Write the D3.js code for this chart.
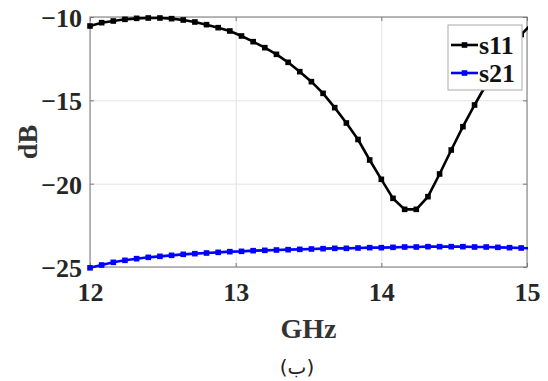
<!DOCTYPE html>
<html><head><meta charset="utf-8">
<script src="https://cdn.jsdelivr.net/npm/d3@7"></script>
<style>body{margin:0;background:#fff}svg{display:block}</style>
</head><body>
<script>
const freq = [12.00,12.08,12.16,12.24,12.32,12.40,12.48,12.56,12.64,12.72,12.80,12.88,12.96,13.04,13.12,13.20,13.28,13.36,13.44,13.52,13.60,13.68,13.76,13.84,13.92,14.00,14.08,14.16,14.24,14.32,14.40,14.48,14.56,14.64,14.72,14.80,14.88,14.96,15.04];
const s11 = [-10.54,-10.34,-10.24,-10.14,-10.08,-10.06,-10.06,-10.10,-10.18,-10.30,-10.46,-10.64,-10.84,-11.14,-11.48,-11.84,-12.24,-12.72,-13.28,-13.88,-14.58,-15.44,-16.36,-17.35,-18.58,-19.74,-20.88,-21.54,-21.54,-20.78,-19.42,-17.98,-16.58,-15.28,-14.05,-12.95,-11.95,-11.05,-10.35];
const s21 = [-25.05,-24.88,-24.72,-24.60,-24.50,-24.42,-24.36,-24.30,-24.24,-24.20,-24.16,-24.12,-24.08,-24.06,-24.02,-24.00,-23.98,-23.96,-23.94,-23.92,-23.90,-23.88,-23.88,-23.86,-23.84,-23.84,-23.82,-23.80,-23.80,-23.78,-23.78,-23.78,-23.78,-23.80,-23.80,-23.82,-23.84,-23.86,-23.88];
const xTicks = [12,13,14,15];
const yTicks = [-25,-20,-15,-10];
const seriesNames = ["s11","s21"];
const seriesColors = ["#000000","#0000ff"];

const W=548,H=381;
const svg=d3.select("body").append("svg").attr("width",W).attr("height",H);
const L=90,R=527,T=17,B=267;
const x=d3.scaleLinear().domain([12,15]).range([L,R]);
const y=d3.scaleLinear().domain([-25,-10]).range([B,T]);
const font="'Liberation Serif','Times New Roman',serif";

// grid
const gx=svg.append("g").attr("transform",`translate(0,${B})`)
 .call(d3.axisBottom(x).tickValues(xTicks).tickSize(-(B-T)).tickFormat(""));
gx.selectAll("line").attr("stroke","#e3e3e3");
gx.select(".domain").remove();
const gy=svg.append("g").attr("transform",`translate(${L},0)`)
 .call(d3.axisLeft(y).tickValues(yTicks).tickSize(-(R-L)).tickFormat(""));
gy.selectAll("line").attr("stroke","#e3e3e3");
gy.select(".domain").remove();

// box
svg.append("rect").attr("x",L).attr("y",T).attr("width",R-L).attr("height",B-T)
 .attr("fill","none").attr("stroke","#8c8c8c").attr("stroke-width",1.2);

// axes
const ax=svg.append("g").attr("transform",`translate(0,${B})`)
 .call(d3.axisBottom(x).tickValues(xTicks).tickSize(-4).tickPadding(16).tickFormat(d3.format("d")));
ax.select(".domain").remove();
ax.selectAll("line").attr("stroke","#777");
ax.selectAll("text").attr("font-family",font).attr("font-weight","bold").attr("font-size",26).attr("fill","#262626");
const ay=svg.append("g").attr("transform",`translate(${L},0)`)
 .call(d3.axisLeft(y).tickValues(yTicks).tickSize(-4).tickPadding(8).tickFormat(d3.format("d")));
ay.select(".domain").remove();
ay.selectAll("line").attr("stroke","#777");
ay.selectAll("text").attr("font-family",font).attr("font-weight","bold").attr("font-size",26).attr("fill","#262626").attr("dy","0.36em");
svg.append("g").attr("transform",`translate(0,${T})`)
 .call(d3.axisTop(x).tickValues(xTicks).tickSize(-4).tickFormat("")).call(g=>{g.select(".domain").remove();g.selectAll("line").attr("stroke","#777");});
svg.append("g").attr("transform",`translate(${R},0)`)
 .call(d3.axisRight(y).tickValues(yTicks).tickSize(-4).tickFormat("")).call(g=>{g.select(".domain").remove();g.selectAll("line").attr("stroke","#777");});

svg.append("clipPath").attr("id","clipx").append("rect").attr("x",L-4).attr("y",0).attr("width",R-L+5).attr("height",H);

const data=[s11,s21];
const line=d3.line().x((d,i)=>x(freq[i])).y(d=>y(d));
data.forEach((vals,k)=>{
  const g=svg.append("g").attr("clip-path","url(#clipx)");
  g.append("path").datum(vals).attr("d",line).attr("fill","none")
   .attr("stroke",seriesColors[k]).attr("stroke-width",2.6);
  g.selectAll("rect.m").data(vals).enter().append("rect")
   .attr("x",(d,i)=>x(freq[i])-2.8).attr("y",d=>y(d)-2.8)
   .attr("width",5.6).attr("height",5.6).attr("fill",seriesColors[k]);
});

// legend
const lg=svg.append("g");
lg.append("rect").attr("x",448).attr("y",25).attr("width",74).attr("height",65)
 .attr("fill","#fff").attr("stroke","#aaaaaa").attr("stroke-width",1);
seriesNames.forEach((n,k)=>{
  const yy=45+k*28;
  lg.append("line").attr("x1",451).attr("x2",478).attr("y1",yy).attr("y2",yy)
   .attr("stroke",seriesColors[k]).attr("stroke-width",2.6);
  lg.append("rect").attr("x",464.5-2.8).attr("y",yy-2.8).attr("width",5.6).attr("height",5.6).attr("fill",seriesColors[k]);
  lg.append("text").attr("x",479).attr("y",yy+9).text(n)
   .attr("font-family",font).attr("font-weight","bold").attr("font-size",26).attr("fill","#111");
});

// labels
svg.append("text").attr("x",(L+R)/2).attr("y",338).attr("text-anchor","middle")
 .attr("font-family",font).attr("font-weight","bold").attr("font-size",28).attr("fill","#333").text("GHz");
svg.append("text").attr("transform",`translate(37,142) rotate(-90)`).attr("text-anchor","middle")
 .attr("font-family",font).attr("font-weight","bold").attr("font-size",28).attr("fill","#333").text("dB");
svg.append("text").attr("x",297).attr("y",374).attr("text-anchor","middle")
 .attr("font-family","'DejaVu Sans','Noto Sans',sans-serif").attr("font-size",20).attr("fill","#222").text("(ب)");
</script>
</body></html>
